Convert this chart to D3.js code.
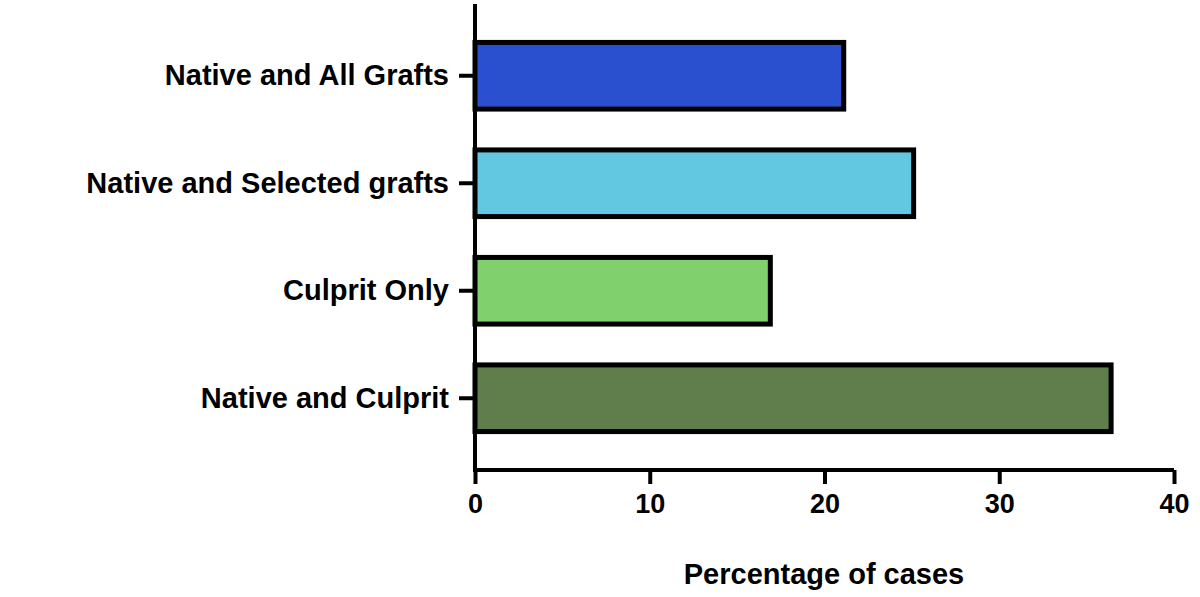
<!DOCTYPE html>
<html><head><meta charset="utf-8">
<script src="https://cdn.jsdelivr.net/npm/d3@7"></script>
<style>body{margin:0;background:#fff}text{font-family:"Liberation Sans",Arial,sans-serif;font-weight:bold}</style>
</head><body><svg id="c" width="1200" height="597"></svg>
<script>
const categories = ['Native and All Grafts','Native and Selected grafts','Culprit Only','Native and Culprit']
const values = [21.1, 25.1, 16.9, 36.4]
const colors = ['#2a50cf','#62c7e1','#80d06e','#5f7e4b']
const xTicks = [0, 10, 20, 30, 40]

const svg = d3.select('#c')
const x = d3.scaleLinear().domain([0, 40]).range([475, 1174])
const y = d3.scaleBand().domain(categories).range([22, 452]).paddingInner(0.38).paddingOuter(0.19)

svg.selectAll('rect').data(categories).join('rect')
    .attr('x', x(0))
    .attr('y', d => y(d))
    .attr('width', (d, i) => x(values[i]) - x(0))
    .attr('height', y.bandwidth())
    .attr('fill', (d, i) => colors[i])
    .attr('stroke', '#000').attr('stroke-width', 5)

const xAxis = svg.append('g').attr('transform', 'translate(0,470)')
    .call(d3.axisBottom(x).tickValues(xTicks).tickSize(14).tickPadding(10))
xAxis.select('.domain').attr('stroke-width', 4).attr('d', `M${x(0)},0H${x(40)}`)
xAxis.selectAll('.tick line').attr('stroke-width', 4)
xAxis.selectAll('text').attr('font-size', 27).attr('fill', '#000')

const yAxis = svg.append('g').attr('transform', `translate(${x(0)},0)`)
    .call(d3.axisLeft(y).tickSize(16).tickPadding(10))
yAxis.select('.domain').attr('stroke-width', 4).attr('d', 'M0,4V472')
yAxis.selectAll('.tick line').attr('stroke-width', 4)
yAxis.selectAll('text').attr('font-size', 29).attr('fill', '#000')

svg.append('text').attr('x', 824).attr('y', 584).attr('text-anchor', 'middle')
    .attr('font-size', 29).text('Percentage of cases')
</script></body></html>
